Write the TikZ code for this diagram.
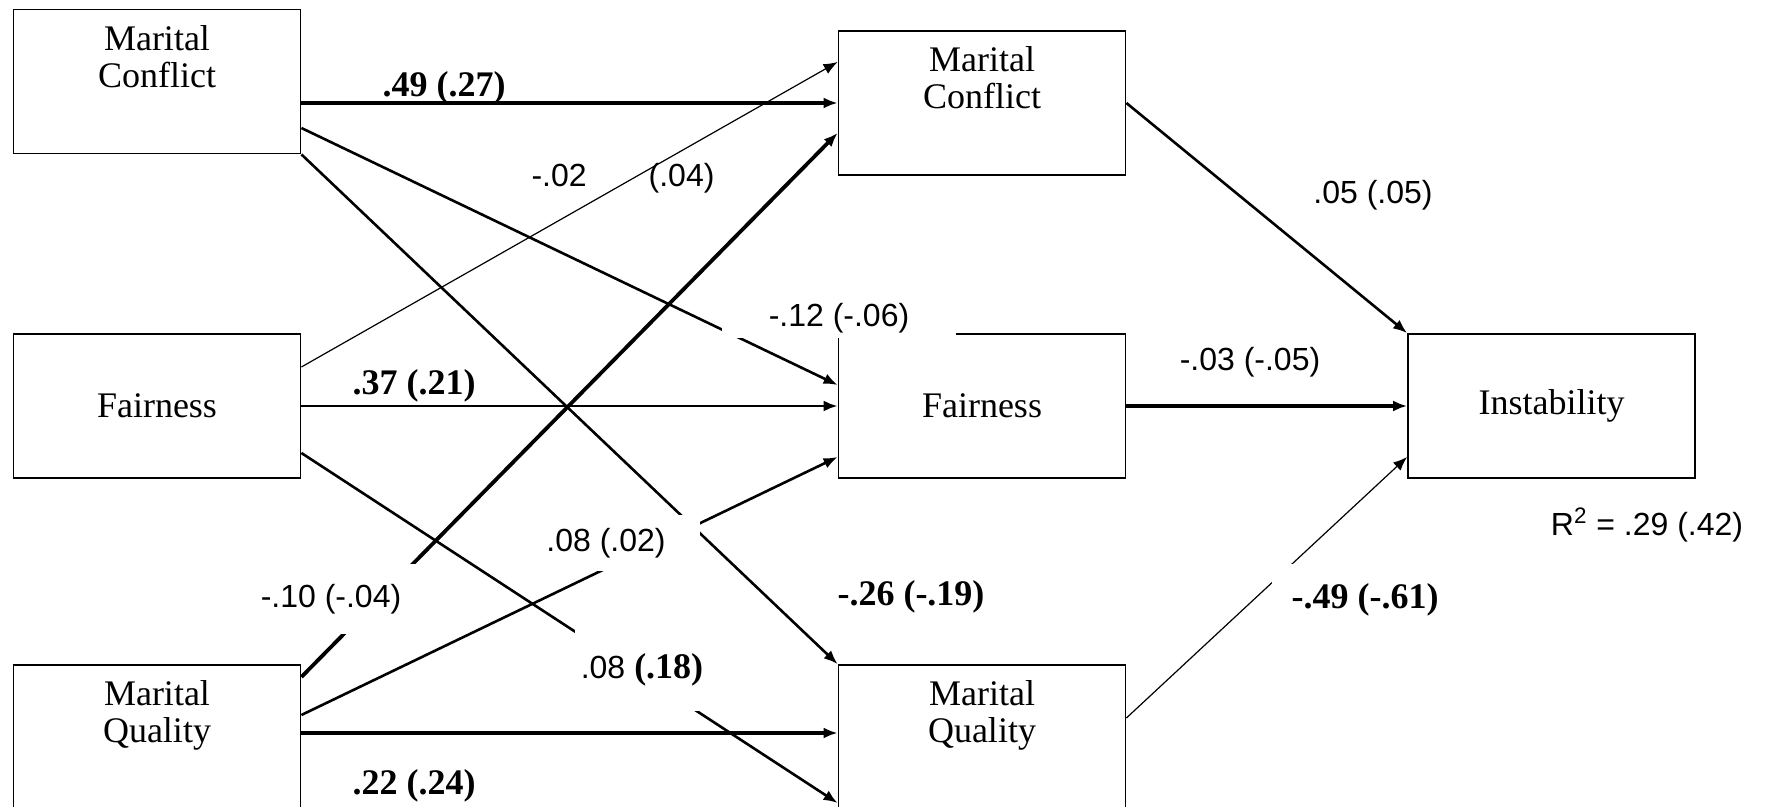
\documentclass[tikz,border=0pt]{standalone}
\usepackage{fontspec}
\setmainfont{Liberation Serif}
\newfontfamily\coeffont{Liberation Sans}
\usetikzlibrary{arrows.meta,calc}

\begin{document}
\begin{tikzpicture}[x=0.5pt,y=0.5pt,yscale=-1,
  var/.style={draw,line width=0.9pt,minimum width=143.5pt,minimum height=72pt,inner sep=0pt,align=center,font=\fontsize{18}{18.5}\selectfont},
  link/.style={-{Latex[length=7pt,width=5.5pt]}},
  heavylink/.style={link,line width=1.9pt},
  midlink/.style={link,line width=1.3pt},
  faintlink/.style={link,line width=0.6pt},
  coef/.style={font=\coeffont\fontsize{16}{18}\selectfont,inner sep=1pt},
  bcoef/.style={font=\fontsize{18}{20}\selectfont\bfseries,inner sep=1pt},
  mask/.style={fill=white}]

\useasboundingbox (0,0) rectangle (1767,807);
\clip (0,0) rectangle (1767,807);

\node[var] (mcA) at (157,81.5) {Marital\\Conflict\\[6.8pt]\mbox{}};
\node[var] (faA) at (157,406) {Fairness};
\node[var] (mqA) at (157,737) {Marital\\Quality\\[6.8pt]\mbox{}};
\node[var] (mcB) at (982,103) {Marital\\Conflict\\[6.8pt]\mbox{}};
\node[var] (faB) at (982,406) {Fairness};
\node[var] (mqB) at (982,737) {Marital\\Quality\\[6.8pt]\mbox{}};
\node[var] (inst) at (1551.5,406) {Instability};

\draw[heavylink] ($(mcA.east)+(0,21.5)$) -- (mcB.west);
\draw[midlink] ($(mcA.east)+(0,46.5)$) -- ($(faB.west)+(0,-21)$);
\draw[midlink] (mcA.south east) -- (mqB.north west);
\draw[faintlink] ($(faA.east)+(0,-39)$) -- ($(mcB.west)+(0,-41)$);
\draw[midlink] (faA.east) -- (faB.west);
\draw[midlink] ($(faA.east)+(0,47)$) -- ($(mqB.west)+(0,66)$);
\draw[heavylink] ($(mqA.east)+(0,-60)$) -- ($(mcB.west)+(0,30)$);
\draw[midlink] ($(mqA.east)+(0,-22)$) -- ($(faB.west)+(0,51)$);
\draw[heavylink] ($(mqA.east)+(0,-4)$) -- ($(mqB.west)+(0,-4)$);
\draw[midlink] (mcB.east) -- (inst.north west);
\draw[heavylink] (faB.east) -- (inst.west);
\draw[faintlink] ($(mqB.east)+(0,-19)$) -- ($(inst.west)+(0,51)$);

\node[bcoef] (l49) at (444,88) {.49 (.27)};
\node[coef] (l02) at (623,178) {-.02\hspace{31pt}(.04)};
\node[coef,mask,minimum width=117pt,minimum height=20pt] (l12) at (839,318) {-.12 (-.06)\hspace{14pt}};
\node[bcoef] (l37) at (414,386) {.37 (.21)};
\node[coef] (l05) at (1373,195) {.05 (.05)};
\node[coef] (l03) at (1250,362) {-.03 (-.05)};
\node[coef,mask,inner sep=10pt] (l10) at (331,599) {-.10 (-.04)};
\node[coef,mask,minimum width=94pt,minimum height=28pt] (l0802) at (606,543) {.08 (.02)};
\node[bcoef] (l26) at (911,597) {-.26 (-.19)};
\node[bcoef,mask,minimum width=67pt,minimum height=41pt] (l0818) at (642,670) {{\coeffont\mdseries\fontsize{16}{18}\selectfont .08} (.18)};
\node[bcoef,mask,inner sep=10pt] (l49b) at (1365,600) {-.49 (-.61)};
\node[bcoef] (l22) at (414,786) {.22 (.24)};
\node[coef] (r2) at (1647,525) {R\textsuperscript{2} = .29 (.42)};

\end{tikzpicture}
\end{document}
